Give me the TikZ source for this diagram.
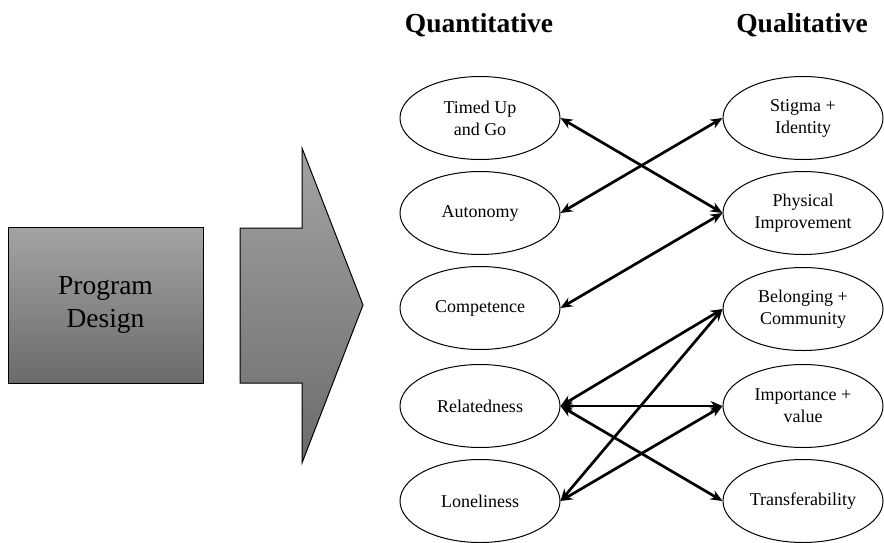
\documentclass[tikz,border=0pt]{standalone}
\usepackage{fontspec}
\setmainfont{Liberation Serif}
\usetikzlibrary{shapes.geometric,arrows.meta}
\begin{document}
\begin{tikzpicture}[x=1pt,y=-1pt,
  oval/.style={ellipse,draw,line width=1pt,minimum width=160pt,minimum height=83pt,inner sep=0pt,align=center,font=\fontsize{18}{22}\selectfont},
  head/.style={font=\fontsize{27.5}{30}\selectfont\bfseries},
  link/.style={{Stealth[length=12pt,width=10pt]}-{Stealth[length=12pt,width=10pt]},line width=2.7pt},
  grayfill/.style={draw,line width=1pt,top color=black!36,bottom color=black!58}]
\useasboundingbox (0,0) rectangle (884,542);
% headers
\node[head] (hq) at (479,25) {Quantitative};
\node[head] (hl) at (802,25) {Qualitative};
% program design box
\node[grayfill,minimum width=195pt,minimum height=156pt,inner sep=0pt,align=center,font=\fontsize{27.5}{33}\selectfont] (pd) at (105.5,305) {Program\\Design};
% big arrow
\path[grayfill] (240,228) -- (302,228) -- (302,148) -- (363,305) -- (302,463) -- (302,383) -- (240,383) -- cycle;
% left column
\node[oval] (tug) at (480,118) {Timed Up\\and Go};
\node[oval] (aut) at (480,213) {Autonomy};
\node[oval] (com) at (480,308) {Competence};
\node[oval] (rel) at (480,406) {Relatedness};
\node[oval] (lon) at (480,501) {Loneliness};
% right column
\node[oval] (sti) at (803,118) {Stigma +\\Identity};
\node[oval] (phy) at (803,213) {Physical\\Improvement};
\node[oval] (bel) at (803,309) {Belonging +\\Community};
\node[oval] (imp) at (803,406) {Importance +\\value};
\node[oval] (tra) at (803,501) {Transferability};
% links
\draw[link] (tug.east) -- (phy.west);
\draw[link] (aut.east) -- (sti.west);
\draw[link] (com.east) -- (phy.west);
\draw[link] (rel.east) -- (bel.west);
\draw[link] (rel.east) -- (imp.west);
\draw[link] (rel.east) -- (tra.west);
\draw[link] (lon.east) -- (bel.west);
\draw[link] (lon.east) -- (imp.west);
\end{tikzpicture}
\end{document}
